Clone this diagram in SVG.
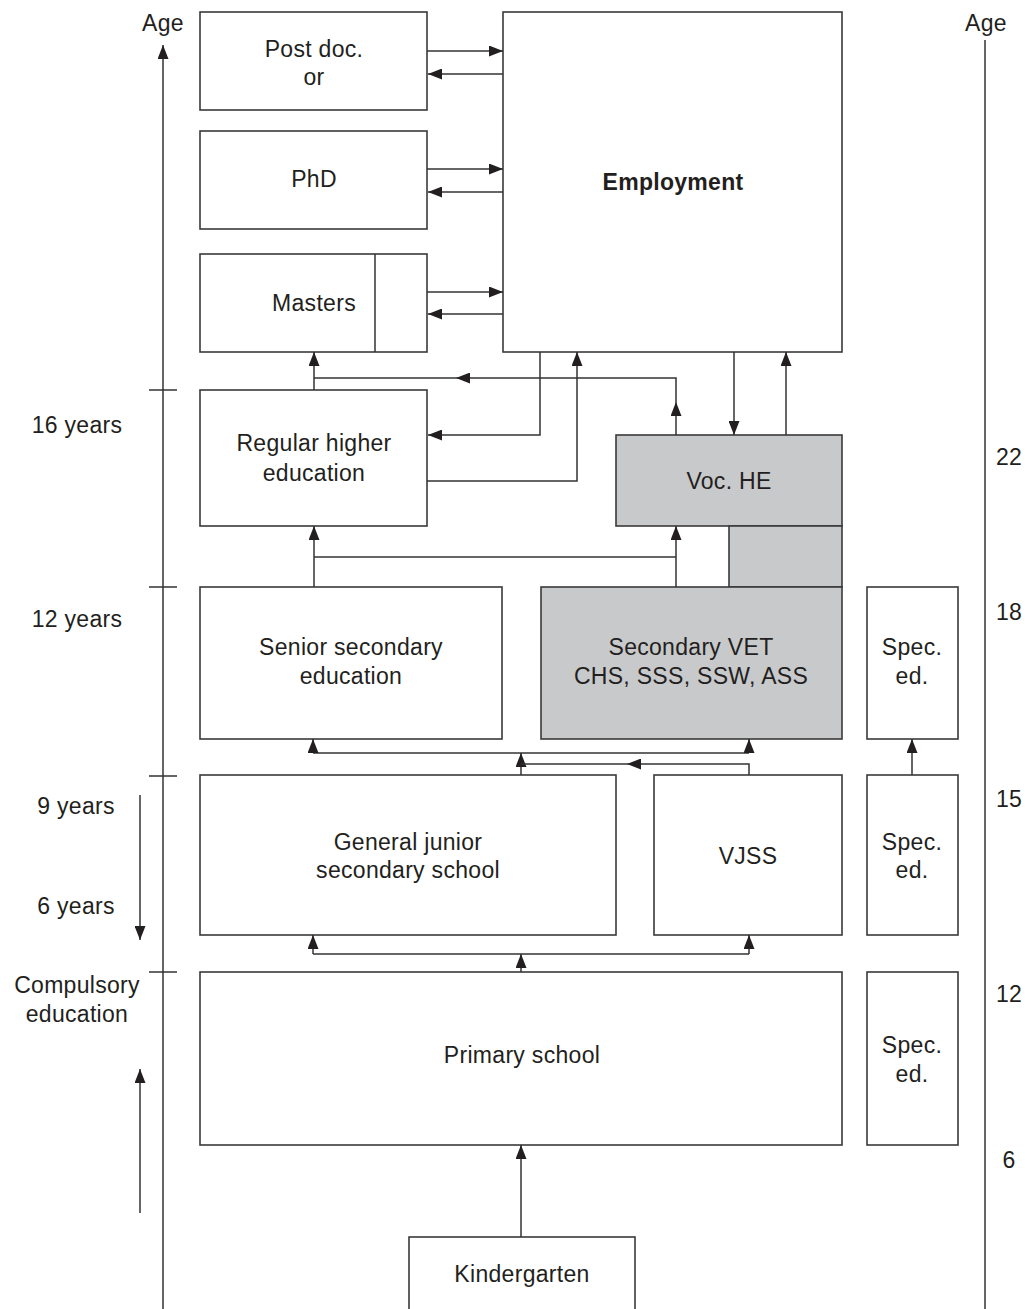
<svg xmlns="http://www.w3.org/2000/svg" width="1025" height="1309" viewBox="0 0 1025 1309">
<style>
  .box { fill: #ffffff; stroke: #3a3a3a; stroke-width: 1.6; }
  .grey { fill: #c8c9cb; stroke: #3a3a3a; stroke-width: 1.6; }
  .t { font-family: "Liberation Sans", Arial, sans-serif; font-size: 23px; fill: #231f20; text-anchor: middle; letter-spacing: 0.3px; }
  .b { font-weight: bold; }
  .ln { fill: none; stroke: #333333; stroke-width: 1.5; }
  .arr { fill: none; stroke: #333333; stroke-width: 1.5; marker-end: url(#ah); }
</style>
<defs>
  <marker id="ah" markerUnits="userSpaceOnUse" markerWidth="14" markerHeight="11" refX="14" refY="5.5" orient="auto">
    <path d="M0,0 L14,5.5 L0,11 Z" fill="#231f20"/>
  </marker>
</defs>
<rect width="1025" height="1309" fill="#ffffff"/>

<g id="axis-left">
  <path class="arr" d="M163,1309 V45"/>
  <path class="ln" d="M149,390 H177 M149,587 H177 M149,776 H177 M149,972 H177"/>
  <text class="t" x="163" y="31">Age</text>
  <text class="t" x="77" y="433">16 years</text>
  <text class="t" x="77" y="627">12 years</text>
  <text class="t" x="76" y="814">9 years</text>
  <text class="t" x="76" y="914">6 years</text>
  <text class="t" x="77" y="993">Compulsory</text>
  <text class="t" x="77" y="1022">education</text>
  <path class="arr" d="M140,795 V940"/>
  <path class="arr" d="M140,1213 V1069"/>
</g>

<g id="axis-right">
  <path class="ln" d="M985,40 V1309"/>
  <text class="t" x="986" y="31">Age</text>
  <text class="t" x="1009" y="465">22</text>
  <text class="t" x="1009" y="620">18</text>
  <text class="t" x="1009" y="807">15</text>
  <text class="t" x="1009" y="1002">12</text>
  <text class="t" x="1009" y="1168">6</text>
</g>

<g id="postdoc">
  <rect class="box" x="200" y="12" width="227" height="98"/>
  <text class="t" x="314" y="57">Post doc.</text>
  <text class="t" x="314" y="85">or</text>
</g>
<g id="phd">
  <rect class="box" x="200" y="131" width="227" height="98"/>
  <text class="t" x="314" y="187">PhD</text>
</g>
<g id="masters">
  <rect class="box" x="200" y="254" width="227" height="98"/>
  <path class="ln" d="M375,254 V352"/>
  <text class="t" x="314" y="311">Masters</text>
</g>
<g id="employment">
  <rect class="box" x="503" y="12" width="339" height="340"/>
  <text class="t b" x="673" y="190">Employment</text>
</g>
<g id="regular-he">
  <rect class="box" x="200" y="390" width="227" height="136"/>
  <text class="t" x="314" y="451">Regular higher</text>
  <text class="t" x="314" y="481">education</text>
</g>
<g id="voc-he">
  <rect class="grey" x="616" y="435" width="226" height="91"/>
  <rect class="grey" x="729" y="526" width="113" height="61"/>
  <text class="t" x="729" y="489">Voc. HE</text>
</g>
<g id="senior-secondary">
  <rect class="box" x="200" y="587" width="302" height="152"/>
  <text class="t" x="351" y="655">Senior secondary</text>
  <text class="t" x="351" y="684">education</text>
</g>
<g id="secondary-vet">
  <rect class="grey" x="541" y="587" width="301" height="152"/>
  <text class="t" x="691" y="655">Secondary VET</text>
  <text class="t" x="691" y="684">CHS, SSS, SSW, ASS</text>
</g>
<g id="spec-ed-1">
  <rect class="box" x="867" y="587" width="91" height="152"/>
  <text class="t" x="912" y="655">Spec.</text>
  <text class="t" x="912" y="684">ed.</text>
</g>
<g id="junior-secondary">
  <rect class="box" x="200" y="775" width="416" height="160"/>
  <text class="t" x="408" y="850">General junior</text>
  <text class="t" x="408" y="878">secondary school</text>
</g>
<g id="vjss">
  <rect class="box" x="654" y="775" width="188" height="160"/>
  <text class="t" x="748" y="864">VJSS</text>
</g>
<g id="spec-ed-2">
  <rect class="box" x="867" y="775" width="91" height="160"/>
  <text class="t" x="912" y="850">Spec.</text>
  <text class="t" x="912" y="878">ed.</text>
</g>
<g id="primary">
  <rect class="box" x="200" y="972" width="642" height="173"/>
  <text class="t" x="522" y="1063">Primary school</text>
</g>
<g id="spec-ed-3">
  <rect class="box" x="867" y="972" width="91" height="173"/>
  <text class="t" x="912" y="1053">Spec.</text>
  <text class="t" x="912" y="1082">ed.</text>
</g>
<g id="kindergarten">
  <rect class="box" x="409" y="1237" width="226" height="80"/>
  <text class="t" x="522" y="1282">Kindergarten</text>
</g>

<g id="connectors">
  <path class="arr" d="M427,51 H503"/>
  <path class="arr" d="M503,74 H428"/>
  <path class="arr" d="M427,169 H503"/>
  <path class="arr" d="M503,192 H428"/>
  <path class="arr" d="M427,292 H503"/>
  <path class="arr" d="M503,314 H428"/>
  <path class="arr" d="M314,390 V352"/>
  <path class="arr" d="M676,435 V402"/>
  <path class="arr" d="M676,402 V378 H456"/>
  <path class="ln" d="M456,378 H314"/>
  <path class="arr" d="M540,352 V435 H428"/>
  <path class="arr" d="M427,481 H577 V352"/>
  <path class="arr" d="M734,352 V435"/>
  <path class="arr" d="M786,435 V352"/>
  <path class="arr" d="M314,587 V526"/>
  <path class="arr" d="M676,587 V526"/>
  <path class="ln" d="M314,557 H676"/>
  <path class="ln" d="M313,753 H749"/>
  <path class="arr" d="M313,753 V739"/>
  <path class="arr" d="M749,753 V739"/>
  <path class="arr" d="M521,775 V753"/>
  <path class="arr" d="M749,775 V764 H627"/>
  <path class="ln" d="M627,764 H521"/>
  <path class="ln" d="M313,954 H749"/>
  <path class="arr" d="M313,954 V935"/>
  <path class="arr" d="M749,954 V935"/>
  <path class="arr" d="M521,972 V954"/>
  <path class="arr" d="M912,775 V739"/>
  <path class="arr" d="M521,1237 V1145"/>
</g>
</svg>
